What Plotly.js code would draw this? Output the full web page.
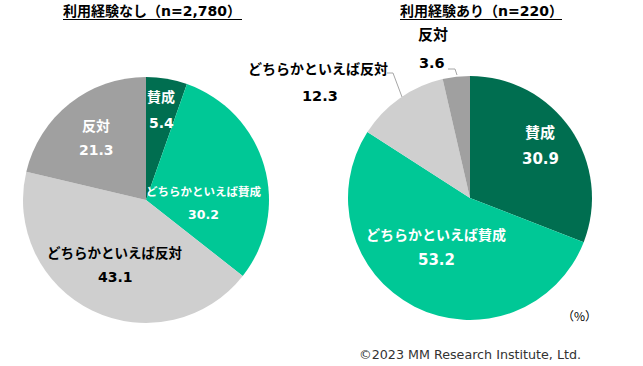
<!DOCTYPE html>
<html><head><meta charset="utf-8">
<script src="https://cdn.plot.ly/plotly-3.0.1.min.js"></script>
<style>html,body{margin:0;padding:0;background:#fff}</style>
</head><body>
<div id="chart" style="width:643px;height:366px"></div>
<script>
const categories = ['賛成', 'どちらかといえば賛成', 'どちらかといえば反対', '反対'];
const noExpValues = [5.4, 30.2, 43.1, 21.3];
const withExpValues = [30.9, 53.2, 12.3, 3.6];
const panelTitles = ['利用経験なし（n=2,780）', '利用経験あり（n=220）'];
const unitLabel = '（%）';
const creditText = '©2023 MM Research Institute, Ltd.';

const colors = ['#006E50', '#00C896', '#CFCFCF', '#A0A0A0'];
const W = 643, H = 366;
const px = x => x / W, py = y => 1 - y / H;
const FAM = 'DejaVu Sans, Noto Sans CJK JP, sans-serif';

function pie(values, cx, cy, r) {
  return {
    type: 'pie', values: values, labels: categories, sort: false,
    direction: 'clockwise', rotation: 0, textinfo: 'none', hoverinfo: 'none',
    marker: {colors: colors, line: {color: '#ffffff', width: 0}},
    domain: {x: [px(cx - r), px(cx + r)], y: [py(cy + r), py(cy - r)]},
    showlegend: false
  };
}

const annotations = [];
function lab(text, x, y, size, color) {
  annotations.push({text: text, x: px(x), y: py(y), xref: 'paper', yref: 'paper',
    showarrow: false, xanchor: 'center', yanchor: 'middle',
    font: {family: FAM, size: size, color: color, weight: 'bold'}});
}
// [label x, label y, value x, value y, label size, value size, color]
const leftPos = [[161, 97, 161, 123, 14, 14, '#fff'], [203, 192, 203, 214, 11.5, 12.5, '#fff'],
                 [115, 253, 115, 277, 13.5, 14, '#000'], [96, 126, 96, 150, 14, 14, '#fff']];
const rightPos = [[540, 133, 540, 159, 15, 15, '#fff'], [436, 235, 436, 260, 14, 15, '#fff'],
                  [318, 69, 319.5, 96, 14, 14.5, '#000'], [432.5, 35, 431.5, 63, 15, 14.5, '#000']];
categories.forEach((c, i) => {
  const a = leftPos[i];
  lab(c, a[0], a[1], a[4], a[6]);
  lab(noExpValues[i].toFixed(1), a[2], a[3], a[5], a[6]);
  const b = rightPos[i];
  lab(c, b[0], b[1], b[4], b[6]);
  lab(withExpValues[i].toFixed(1), b[2], b[3], b[5], b[6]);
});
// titles
const titleX = [152, 481];
panelTitles.forEach((t, i) => {
  annotations.push({text: t, x: px(titleX[i]), y: py(11), xref: 'paper', yref: 'paper',
    showarrow: false, xanchor: 'center', yanchor: 'middle',
    font: {family: FAM, size: 14, color: '#000', weight: 'bold'}});
});
annotations.push({text: unitLabel, x: px(579), y: py(315), xref: 'paper', yref: 'paper',
  showarrow: false, xanchor: 'center', yanchor: 'middle',
  font: {family: 'Noto Sans CJK JP, sans-serif', size: 12, color: '#000'}});
annotations.push({text: creditText, x: px(470), y: py(354), xref: 'paper', yref: 'paper',
  showarrow: false, xanchor: 'center', yanchor: 'middle',
  font: {family: 'DejaVu Sans, sans-serif', size: 12.7, color: '#333'}});

function pathP(pts) {
  return pts.map((p, i) => (i ? 'L' : 'M') + px(p[0]) + ',' + py(p[1])).join(' ');
}
const shapes = [
  {type: 'line', xref: 'paper', yref: 'paper', x0: px(63), x1: px(242), y0: py(19.5), y1: py(19.5), line: {color: '#000', width: 1}},
  {type: 'line', xref: 'paper', yref: 'paper', x0: px(400), x1: px(562), y0: py(19.5), y1: py(19.5), line: {color: '#000', width: 1}},
  {type: 'path', xref: 'paper', yref: 'paper', path: pathP([[387, 73], [393, 73], [402, 97]]), line: {color: '#A6A6A6', width: 1}},
  {type: 'path', xref: 'paper', yref: 'paper', path: pathP([[448, 69], [455, 69], [457, 75]]), line: {color: '#A6A6A6', width: 1}}
];

const data = [pie(noExpValues, 146, 200, 123), pie(withExpValues, 470, 198, 122)];
const layout = {width: W, height: H, margin: {l: 0, r: 0, t: 0, b: 0},
  paper_bgcolor: '#fff', plot_bgcolor: '#fff', annotations: annotations, shapes: shapes};
Plotly.newPlot('chart', data, layout, {staticPlot: true, displayModeBar: false});
</script>
</body></html>
